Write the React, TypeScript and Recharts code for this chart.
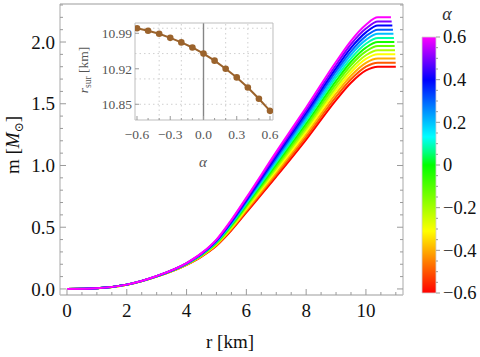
import { LineChart, Line, XAxis, YAxis, ReferenceLine, BarChart, Bar } from "recharts";

// alpha values of the family, one curve each (red -> magenta)
const ALPHAS = [-0.6, -0.5, -0.4, -0.3, -0.2, -0.1, 0, 0.1, 0.2, 0.3, 0.4, 0.5, 0.6];
// surface radius [km] per alpha (inset)
const R_SUR = [11.0, 10.995, 10.989, 10.981, 10.972, 10.962, 10.95, 10.936, 10.92, 10.903, 10.883, 10.861, 10.837];

// radial nodes [km] where the mass profiles were read
const R_NODES = [0, 1, 2, 3, 4, 4.5, 5, 5.5, 6, 7, 8, 9, 9.5, 10, 10.4];
// m(r) [M_sun] per alpha, read at R_NODES (last value holds up to R_SUR)
const M_NEG_06 = [0, 0.006, 0.034, 0.1, 0.195, 0.262, 0.35, 0.475, 0.62, 0.91, 1.21, 1.53, 1.67, 1.77, 1.8];
const M_NEG_05 = [0, 0.006, 0.034, 0.1, 0.196, 0.264, 0.354, 0.482, 0.63, 0.927, 1.232, 1.556, 1.698, 1.801, 1.833];
const M_NEG_04 = [0, 0.006, 0.034, 0.101, 0.198, 0.267, 0.358, 0.489, 0.64, 0.943, 1.253, 1.582, 1.727, 1.832, 1.867];
const M_NEG_03 = [0, 0.006, 0.034, 0.101, 0.199, 0.269, 0.363, 0.496, 0.65, 0.96, 1.275, 1.608, 1.755, 1.863, 1.9];
const M_NEG_02 = [0, 0.006, 0.034, 0.102, 0.2, 0.271, 0.367, 0.503, 0.66, 0.977, 1.297, 1.633, 1.783, 1.893, 1.933];
const M_NEG_01 = [0, 0.006, 0.035, 0.102, 0.201, 0.274, 0.371, 0.51, 0.67, 0.993, 1.318, 1.659, 1.812, 1.924, 1.967];
const M_ZERO = [0, 0.006, 0.035, 0.102, 0.203, 0.276, 0.375, 0.517, 0.68, 1.01, 1.34, 1.685, 1.84, 1.955, 2.0];
const M_POS_01 = [0, 0.006, 0.035, 0.103, 0.204, 0.278, 0.379, 0.525, 0.69, 1.027, 1.362, 1.711, 1.868, 1.986, 2.033];
const M_POS_02 = [0, 0.006, 0.035, 0.103, 0.205, 0.281, 0.383, 0.532, 0.7, 1.043, 1.383, 1.737, 1.897, 2.017, 2.067];
const M_POS_03 = [0, 0.006, 0.035, 0.104, 0.206, 0.283, 0.388, 0.539, 0.71, 1.06, 1.405, 1.763, 1.925, 2.048, 2.1];
const M_POS_04 = [0, 0.006, 0.035, 0.104, 0.208, 0.285, 0.392, 0.546, 0.72, 1.077, 1.427, 1.788, 1.953, 2.078, 2.133];
const M_POS_05 = [0, 0.006, 0.035, 0.104, 0.209, 0.288, 0.396, 0.553, 0.73, 1.093, 1.448, 1.814, 1.982, 2.109, 2.167];
const M_POS_06 = [0, 0.006, 0.035, 0.105, 0.21, 0.29, 0.4, 0.56, 0.74, 1.11, 1.47, 1.84, 2.01, 2.14, 2.2];
const MASS_ROWS = [
  M_NEG_06, M_NEG_05, M_NEG_04, M_NEG_03, M_NEG_02, M_NEG_01, M_ZERO,
  M_POS_01, M_POS_02, M_POS_03, M_POS_04, M_POS_05, M_POS_06,
];

// axis ticks
const X_TICKS = [0, 0.5, 1, 1.5, 2, 2.5, 3, 3.5, 4, 4.5, 5, 5.5, 6, 6.5, 7, 7.5, 8, 8.5, 9, 9.5, 10, 10.5, 11];
const X_MAJOR = [0, 2, 4, 6, 8, 10];
const Y_TICKS = [0, 0.1, 0.2, 0.3, 0.4, 0.5, 0.6, 0.7, 0.8, 0.9, 1, 1.1, 1.2, 1.3, 1.4, 1.5, 1.6, 1.7, 1.8, 1.9, 2, 2.1, 2.2, 2.3];
const Y_MAJOR = [0, 0.5, 1, 1.5, 2];
const INSET_X_TICKS = [-0.6, -0.5, -0.4, -0.3, -0.2, -0.1, 0, 0.1, 0.2, 0.3, 0.4, 0.5, 0.6];
const INSET_X_MAJOR = [-0.6, -0.3, 0, 0.3, 0.6];
const INSET_Y_TICKS = [10.85, 10.92, 10.99];
const INSET_GRID_X = [-0.4, -0.2, 0.2, 0.4];
const INSET_GRID_Y = [10.85, 10.9, 10.95, 11.0];
const CB_TICKS = [-0.6, -0.4, -0.2, 0, 0.2, 0.4, 0.6];
const CB_MINOR = [-0.55, -0.5, -0.45, -0.35, -0.3, -0.25, -0.15, -0.1, -0.05, 0.05, 0.1, 0.15, 0.25, 0.3, 0.35, 0.45, 0.5, 0.55];

const HUES = [0, 21, 41, 60, 79, 96, 115, 160, 195, 218, 240, 270, 300];
const FONT = '"Liberation Serif", "DejaVu Serif", serif';
const FRAME = "#bdbdbd";
const TICK = "#9a9a9a";
const BROWN = "#9b632c";

const serif = { fontFamily: FONT };
const fmtSigned = (v: number, d: number) => (v < 0 ? "\u2212" + (-v).toFixed(d) : v.toFixed(d));

const series = MASS_ROWS.map((row, k) => [
  ...R_NODES.map((r, i) => ({ r, m: row[i] })),
  { r: R_SUR[k], m: row[row.length - 1] },
]);
const insetData = ALPHAS.map((a, i) => ({ a, r: R_SUR[i] }));

function MainTick({ x, y, payload, side }: any) {
  const v = payload.value;
  const horiz = side === "bottom" || side === "top";
  const major = horiz ? X_MAJOR.includes(v) : Y_MAJOR.includes(v);
  const len = major ? 6 : 3;
  let line;
  if (side === "bottom") line = <line x1={x} x2={x} y1={y} y2={y - len} stroke={TICK} />;
  else if (side === "top") line = <line x1={x} x2={x} y1={y} y2={y + len} stroke={TICK} />;
  else if (side === "left") line = <line x1={x} x2={x + len} y1={y} y2={y} stroke={TICK} />;
  else line = <line x1={x} x2={x - len} y1={y} y2={y} stroke={TICK} />;
  return (
    <g>
      {line}
      {major && side === "bottom" && (
        <text x={x} y={y + 22} textAnchor="middle" fontSize={19} style={serif} fill="#111">
          {v}
        </text>
      )}
      {major && side === "left" && (
        <text x={x - 5} y={y} dy="0.35em" textAnchor="end" fontSize={19} style={serif} fill="#111">
          {v.toFixed(1)}
        </text>
      )}
    </g>
  );
}

function InsetTick({ x, y, payload, side }: any) {
  const v = payload.value;
  if (side === "bottom") {
    const major = INSET_X_MAJOR.includes(v);
    return (
      <g>
        <line x1={x} x2={x} y1={y} y2={y - (major ? 4 : 2)} stroke={TICK} />
        {major && (
          <text x={x} y={y + 19} textAnchor="middle" fontSize={13.5} style={serif} fill="#555">
            {fmtSigned(v, 1)}
          </text>
        )}
      </g>
    );
  }
  return (
    <g>
      <line x1={x} x2={x + 4} y1={y} y2={y} stroke={TICK} />
      <text x={x - 3} y={y} dy="0.35em" textAnchor="end" fontSize={13.5} style={serif} fill="#555">
        {v.toFixed(2)}
      </text>
    </g>
  );
}

function CbTick({ x, y, payload }: any) {
  const v = payload.value;
  const major = CB_TICKS.includes(v);
  return (
    <g>
      <line x1={x} x2={x + (major ? 4 : 2)} y1={y} y2={y} stroke={TICK} />
      {major && (
        <text x={x + 7} y={y} dy="0.35em" textAnchor="start" fontSize={18.5} style={serif} fill="#111">
          {fmtSigned(v, v === 0 ? 0 : 1)}
        </text>
      )}
    </g>
  );
}

export default function App() {
  const XDOM: [number, number] = [-0.234, 11.24];
  const YDOM: [number, number] = [-0.049, 2.308];
  return (
    <div style={{ position: "absolute", left: 0, top: 0, width: 480, height: 357, background: "#fff", fontFamily: FONT }}>
      <div style={{ position: "absolute", left: 0, top: 0 }}>
        <LineChart width={480} height={357} margin={{ top: 0, right: 67, bottom: 22, left: 10 }}>
          <XAxis
            xAxisId="b" type="number" dataKey="r" domain={XDOM} allowDataOverflow ticks={X_TICKS} interval={0}
            height={40} tickSize={0} tickMargin={0} axisLine={{ stroke: FRAME, strokeWidth: 1.3 }}
            tick={(p: any) => <MainTick {...p} side="bottom" />}
          />
          <XAxis
            xAxisId="t" orientation="top" type="number" domain={XDOM} allowDataOverflow ticks={X_TICKS} interval={0}
            height={4} tickSize={0} tickMargin={0} axisLine={{ stroke: FRAME, strokeWidth: 1.3 }}
            tick={(p: any) => <MainTick {...p} side="top" />}
          />
          <YAxis
            yAxisId="l" type="number" domain={YDOM} allowDataOverflow ticks={Y_TICKS} interval={0}
            width={50} tickSize={0} tickMargin={0} axisLine={{ stroke: FRAME, strokeWidth: 1.3 }}
            tick={(p: any) => <MainTick {...p} side="left" />}
          />
          <YAxis
            yAxisId="r" orientation="right" type="number" domain={YDOM} allowDataOverflow ticks={Y_TICKS} interval={0}
            width={10} tickSize={0} tickMargin={0} axisLine={{ stroke: FRAME, strokeWidth: 1.3 }}
            tick={(p: any) => <MainTick {...p} side="right" />}
          />
          {series.map((d, k) => (
            <Line
              key={k} xAxisId="b" yAxisId="l" data={d} dataKey="m" type="monotone"
              stroke={`hsl(${HUES[k]},100%,50%)`} strokeWidth={2} dot={false} isAnimationActive={false}
            />
          ))}
          <text x={230} y={348} textAnchor="middle" fontSize={19} style={serif} fill="#111">r [km]</text>
          <text transform="translate(19,145) rotate(-90)" textAnchor="middle" fontSize={19} style={serif} fill="#111">
            m [<tspan fontStyle="italic">M</tspan>
            <tspan fontSize={12} dy={4}>{"\u2299"}</tspan>
            <tspan dy={-4}>]</tspan>
          </text>
        </LineChart>
      </div>

      <div style={{ position: "absolute", left: 75, top: 15 }}>
        <LineChart width={205} height={160} data={insetData} margin={{ top: 6, right: 7, bottom: 25, left: 10 }}>
          <XAxis
            xAxisId="b" type="number" dataKey="a" domain={[-0.618, 0.627]} allowDataOverflow ticks={INSET_X_TICKS}
            interval={0} height={30} tickSize={0} tickMargin={0} axisLine={{ stroke: FRAME }}
            tick={(p: any) => <InsetTick {...p} side="bottom" />}
          />
          <XAxis xAxisId="t" orientation="top" type="number" domain={[-0.618, 0.627]} allowDataOverflow
            height={2} tick={false} tickLine={false} axisLine={{ stroke: FRAME }} />
          <YAxis
            yAxisId="l" type="number" domain={[10.819, 11.0103]} allowDataOverflow ticks={INSET_Y_TICKS} interval={0}
            width={50} tickSize={0} tickMargin={0} axisLine={{ stroke: FRAME }}
            tick={(p: any) => <InsetTick {...p} side="left" />}
          />
          <YAxis yAxisId="r" orientation="right" type="number" domain={[10.819, 11.0103]} allowDataOverflow
            width={0.01} tick={false} tickLine={false} axisLine={{ stroke: FRAME }} />
          {INSET_GRID_X.map((v) => (
            <ReferenceLine key={"gx" + v} xAxisId="b" yAxisId="l" x={v} stroke="#cfcfcf" strokeDasharray="1.5 3" />
          ))}
          {INSET_GRID_Y.map((v) => (
            <ReferenceLine key={"gy" + v} xAxisId="b" yAxisId="l" y={v} stroke="#cfcfcf" strokeDasharray="1.5 3" />
          ))}
          <ReferenceLine xAxisId="b" yAxisId="l" x={0} stroke="#858585" strokeWidth={1.4} />
          <Line
            xAxisId="b" yAxisId="l" dataKey="r" type="linear" stroke={BROWN} strokeWidth={2}
            dot={{ r: 3.3, fill: BROWN, stroke: BROWN, strokeWidth: 0 }} isAnimationActive={false}
          />
          <text x={128} y={152} textAnchor="middle" fontSize={15} fontStyle="italic" style={serif} fill="#555">α</text>
          <text transform="translate(13,55) rotate(-90)" textAnchor="middle" fontSize={13.5} style={serif} fill="#555">
            <tspan fontStyle="italic">r</tspan>
            <tspan fontSize={9.5} dy={3}>sur</tspan>
            <tspan dy={-3}> [km]</tspan>
          </text>
        </LineChart>
      </div>

      <div style={{ position: "absolute", left: 400, top: 0 }}>
        <BarChart
          width={80} height={357} data={[{ k: "cb", span: [-0.6, 0.6] }]}
          margin={{ top: 37, right: 4, bottom: 64, left: 22 }} barCategoryGap={0}
        >
          <defs>
            <linearGradient id="cbGrad" x1="0" y1="0" x2="0" y2="1">
              <stop offset="0" stopColor="#ff00ff" />
              <stop offset="0.083" stopColor="#8000ff" />
              <stop offset="0.167" stopColor="#0000ff" />
              <stop offset="0.275" stopColor="#0080ff" />
              <stop offset="0.39" stopColor="#00ffff" />
              <stop offset="0.45" stopColor="#00ff80" />
              <stop offset="0.5" stopColor="#00ff00" />
              <stop offset="0.63" stopColor="#80ff00" />
              <stop offset="0.758" stopColor="#ffff00" />
              <stop offset="0.875" stopColor="#ff8000" />
              <stop offset="1" stopColor="#ff0000" />
            </linearGradient>
          </defs>
          <XAxis dataKey="k" type="category" hide />
          <YAxis
            orientation="right" type="number" domain={[-0.6, 0.6]} ticks={[...CB_TICKS, ...CB_MINOR]} interval={0}
            width={40} tickSize={0} tickMargin={0} axisLine={false} tick={(p: any) => <CbTick {...p} />}
          />
          <Bar dataKey="span" fill="url(#cbGrad)" stroke="#d0d0d0" strokeWidth={0.8} isAnimationActive={false} />
          <text x={47} y={20} textAnchor="middle" fontSize={18} fontStyle="italic" style={serif} fill="#333">α</text>
        </BarChart>
      </div>
    </div>
  );
}
